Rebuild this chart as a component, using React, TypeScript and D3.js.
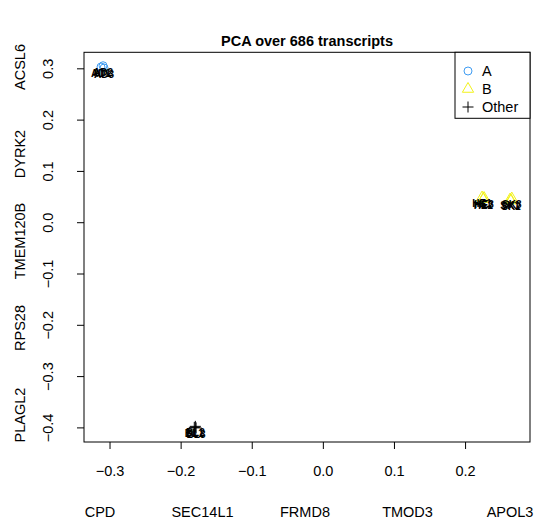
import React from "react";
import * as d3 from "d3";

const title = "PCA over 686 transcripts";
const xTicks = [-0.3, -0.2, -0.1, 0.0, 0.1, 0.2];
const yTicks = [-0.4, -0.3, -0.2, -0.1, 0.0, 0.1, 0.2, 0.3];
const xGenes = ["CPD", "SEC14L1", "FRMD8", "TMOD3", "APOL3"];
const yGenes = ["ACSL6", "DYRK2", "TMEM120B", "RPS28", "PLAGL2"];

const groupA = [
  { x: -0.3127, y: 0.3035, label: "AD1" },
  { x: -0.3098, y: 0.306, label: "AD2" },
  { x: -0.3084, y: 0.3016, label: "AD3" },
];
const groupB = [
  { x: 0.2232, y: 0.05, label: "HE1" },
  { x: 0.225, y: 0.047, label: "HE2" },
  { x: 0.226, y: 0.049, label: "HE3" },
  { x: 0.2625, y: 0.046, label: "SK1" },
  { x: 0.264, y: 0.044, label: "SK2" },
  { x: 0.265, y: 0.048, label: "SK3" },
];
const groupOther = [
  { x: -0.1815, y: -0.399, label: "BL1" },
  { x: -0.18, y: -0.397, label: "BL2" },
  { x: -0.179, y: -0.4, label: "BL3" },
];
const legendItems = ["A", "B", "Other"];

const W = 538, H = 521;
const L = 84, R = 530, T = 52.3, B = 442;

const fmt = (v: number) => (v < 0 ? "\u2212" + Math.abs(v).toFixed(1) : v.toFixed(1));

export default function App() {
  const x = d3.scaleLinear().domain([-0.3366, 0.2906]).range([L, R]);
  const y = d3.scaleLinear().domain([-0.4275, 0.3322]).range([B, T]);
  const xg = d3.scalePoint<string>().domain(xGenes).range([100, 510]);
  const yg = d3.scalePoint<string>().domain(yGenes).range([67, 415]);
  const font = "'Liberation Sans', Arial, Helvetica, sans-serif";
  const tri = d3.symbol().type(d3.symbolTriangle).size(55)();
  const blue = "#3f9cf2";
  const yellow = "#f2f21a";
  const fs = 14.5;

  const plus = (cx: number, cy: number, s: number, key: any) => (
    <g key={key} stroke="#000" strokeWidth={1}>
      <line x1={cx - s} x2={cx + s} y1={cy} y2={cy} />
      <line x1={cx} x2={cx} y1={cy - s} y2={cy + s} />
    </g>
  );
  const allPts = [...groupA, ...groupB, ...groupOther];

  return (
    <svg width={W} height={H} style={{ position: "absolute", left: 0, top: 0, background: "#fff" }} fontFamily={font}>
      <rect x={0} y={0} width={W} height={H} fill="#fff" />
      <text x={(L + R) / 2} y={46} textAnchor="middle" fontWeight="bold" fontSize={14.5}>{title}</text>
      <rect x={L} y={T} width={R - L} height={B - T} fill="none" stroke="#000" strokeWidth={1} />
      {xTicks.map((t) => (
        <g key={"xt" + t}>
          <line x1={x(t)} x2={x(t)} y1={B} y2={B + 7} stroke="#000" />
          <text x={x(t)} y={476} textAnchor="middle" fontSize={fs}>{fmt(t)}</text>
        </g>
      ))}
      {yTicks.map((t) => (
        <g key={"yt" + t}>
          <line x1={L - 7} x2={L} y1={y(t)} y2={y(t)} stroke="#000" />
          <text transform={`translate(${53},${y(t)}) rotate(-90)`} textAnchor="middle" fontSize={fs}>{fmt(t)}</text>
        </g>
      ))}
      {xGenes.map((g) => (
        <text key={g} x={xg(g)} y={517} textAnchor="middle" fontSize={fs}>{g}</text>
      ))}
      {yGenes.map((g) => (
        <text key={g} transform={`translate(${25},${yg(g)}) rotate(-90)`} textAnchor="middle" fontSize={fs}>{g}</text>
      ))}
      {groupA.map((p, i) => (
        <circle key={"a" + i} cx={x(p.x)} cy={y(p.y)} r={4} fill="none" stroke={blue} strokeWidth={1} />
      ))}
      {groupB.map((p, i) => (
        <path key={"b" + i} d={tri!} transform={`translate(${x(p.x)},${y(p.y) + 0.5})`} fill="none" stroke={yellow} strokeWidth={1} />
      ))}
      {groupOther.map((p, i) => plus(x(p.x), y(p.y), 5.5, "o" + i))}
      {allPts.map((p, i) => (
        <text key={"l" + i} x={x(p.x)} y={y(p.y) + 10} textAnchor="middle" fontSize={10} fontWeight="bold">{p.label}</text>
      ))}
      <rect x={455} y={T} width={R - 455} height={66} fill="#fff" stroke="#000" strokeWidth={1} />
      {legendItems.map((item, i) => {
        const cy = 71 + i * 18;
        return (
          <g key={item}>
            {i === 0 && <circle cx={468} cy={cy} r={4} fill="none" stroke={blue} />}
            {i === 1 && <path d={tri!} transform={`translate(468,${cy})`} fill="none" stroke={yellow} />}
            {i === 2 && plus(468, cy, 5.5, "lp")}
            <text x={482} y={cy + 5} fontSize={fs}>{item}</text>
          </g>
        );
      })}
    </svg>
  );
}
